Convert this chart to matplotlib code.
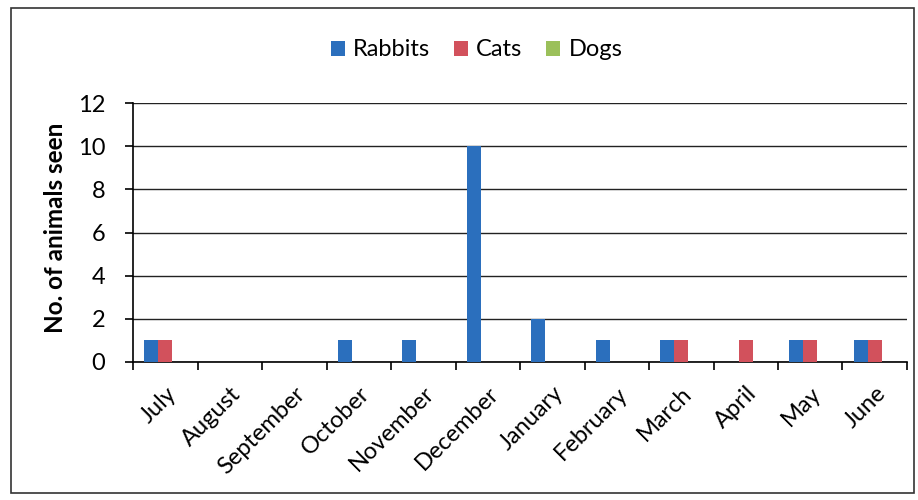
import numpy as np
import matplotlib.pyplot as plt
from matplotlib.patches import Rectangle

months = ["July", "August", "September", "October", "November", "December",
          "January", "February", "March", "April", "May", "June"]
rabbits = [1, 0, 0, 1, 1, 10, 2, 1, 1, 0, 1, 1]
cats = [1, 0, 0, 0, 0, 0, 0, 0, 1, 1, 1, 1]
dogs = [0, 0, 0, 0, 0, 0, 0, 0, 0, 0, 0, 0]

plt.rcParams['font.family'] = ['Lato', 'DejaVu Sans']

fig = plt.figure(figsize=(9.18, 5), dpi=100)
ax = fig.add_axes([0.145, 0.276, 0.843, 0.518])

# outer chart border
fig.patches.append(Rectangle((0.012, 0.014), 0.984, 0.97, transform=fig.transFigure,
                             fill=False, edgecolor="#333333", linewidth=1.2))

x = np.arange(len(months))
w = 0.217
ax.bar(x - w, rabbits, w, color="#2b6fbd", label="Rabbits", zorder=3)
ax.bar(x, cats, w, color="#d2515c", label="Cats", zorder=3)
ax.bar(x + w, dogs, w, color="#9bc05a", label="Dogs", zorder=3)

ax.set_xlim(-0.5, len(months) - 0.5)
ax.set_ylim(0, 12)
ax.set_yticks(range(0, 13, 2))
ax.set_yticklabels([str(v) for v in range(0, 13, 2)], fontsize=17)
ax.yaxis.grid(True, color="#222222", linewidth=1.0, zorder=0)

ax.set_xticks(x)
ax.set_xticklabels(months, rotation=45, ha="right", rotation_mode="anchor", fontsize=17)
ax.set_xticks(np.arange(-0.5, len(months)), minor=True)
ax.tick_params(axis="x", which="major", length=0, pad=15)
ax.tick_params(axis="x", which="minor", length=6, width=1.2, direction="out")
ax.tick_params(axis="y", length=6, width=1.2, direction="out", pad=14)

for s in ["top", "right"]:
    ax.spines[s].set_visible(False)
ax.spines["left"].set_linewidth(1.2)
ax.spines["bottom"].set_linewidth(1.2)

ax.set_ylabel("No. of animals seen", fontsize=17.5, fontweight="bold")
ax.yaxis.set_label_coords(-0.086, 0.52)

fig.legend(loc="center", bbox_to_anchor=(0.519, 0.9), ncol=3, frameon=False,
           fontsize=17, handlelength=0.6, handleheight=0.6, handletextpad=0.35,
           columnspacing=1.0)

fig.savefig("out.png", dpi=100)
